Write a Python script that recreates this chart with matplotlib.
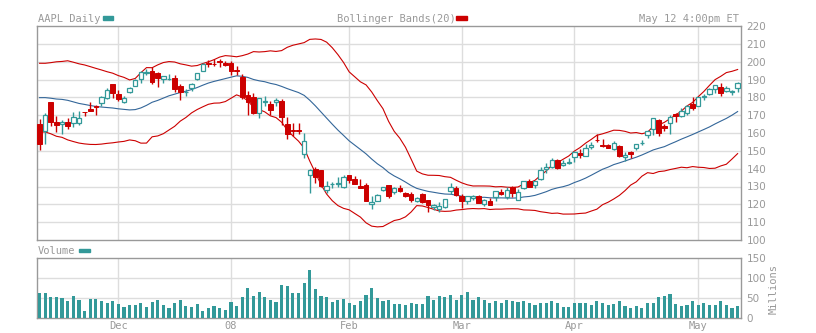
import numpy as np
import pandas as pd
import matplotlib
matplotlib.use("Agg")
from matplotlib import pyplot as plt

# AAPL daily, 2007-11-12 .. 2008-05-12
holidays = ["2007-11-22", "2007-12-25", "2008-01-01", "2008-01-21", "2008-02-18", "2008-03-21"]
dates = pd.bdate_range("2007-11-12", "2008-05-12", freq="C", holidays=holidays)

open_ = [165.28, 160.85, 177.16, 166.39, 165.17, 166.10, 165.67, 165.84, 172.00, 173.59,
         175.22, 176.82, 179.43, 187.34, 181.86, 177.15, 182.89, 186.19, 190.54, 193.59,
         194.75, 193.44, 190.19, 190.37, 190.72, 186.52, 182.98, 185.43, 190.12, 195.03,
         199.01, 198.95, 200.59, 199.50, 199.27, 195.41, 191.45, 181.25, 180.14, 171.30,
         177.58, 176.00, 177.52, 177.72, 165.23, 161.51, 161.71, 148.06, 136.19, 139.99,
         138.99, 128.16, 131.15, 131.37, 129.45, 136.24, 134.21, 130.43, 130.83, 119.97,
         122.08, 128.01, 130.70, 126.68, 129.40, 126.27, 125.99, 122.00, 126.05, 122.48,
         118.59, 117.64, 118.23, 127.20, 129.29, 124.44, 121.99, 123.58, 124.61, 120.41,
         121.98, 124.10, 127.04, 124.10, 129.88, 122.55, 129.18, 133.12, 131.12, 134.01,
         139.96, 140.87, 144.95, 141.80, 143.27, 146.30, 148.78, 147.06, 152.19, 156.13,
         153.55, 153.31, 151.13, 152.72, 146.77, 149.40, 151.72, 154.17, 159.12, 162.21,
         167.40, 164.05, 165.34, 170.70, 169.75, 171.11, 176.19, 174.96, 180.19, 181.92,
         184.66, 186.05, 183.77, 183.16, 185.21]
high = [167.70, 170.98, 177.57, 169.59, 167.43, 168.20, 171.79, 172.35, 172.05, 177.27,
        175.79, 180.60, 185.17, 187.70, 184.14, 180.90, 186.00, 190.10, 194.99, 195.66,
        196.83, 194.48, 192.12, 193.20, 192.65, 187.33, 184.64, 187.83, 193.91, 199.33,
        200.96, 201.33, 201.56, 200.50, 200.26, 197.39, 193.00, 183.60, 182.46, 179.50,
        181.00, 177.85, 179.42, 179.22, 169.01, 165.36, 165.75, 159.98, 140.00, 140.70,
        139.09, 133.20, 132.79, 135.45, 136.65, 136.59, 135.90, 134.00, 131.92, 124.78,
        125.70, 129.98, 131.00, 129.78, 130.80, 127.08, 126.75, 123.94, 126.47, 122.51,
        120.17, 121.09, 123.05, 132.20, 130.21, 125.98, 124.88, 125.14, 125.08, 122.98,
        123.46, 127.48, 128.68, 129.50, 130.30, 128.59, 133.00, 134.29, 133.29, 140.85,
        143.10, 145.74, 145.31, 144.65, 145.71, 149.66, 151.20, 153.63, 154.71, 159.69,
        156.45, 153.89, 155.42, 153.30, 149.25, 149.72, 154.10, 156.00, 161.65, 168.50,
        168.00, 164.84, 169.98, 171.10, 173.75, 175.66, 180.00, 180.00, 181.92, 185.31,
        187.12, 188.20, 186.50, 184.25, 188.87]
low = [150.63, 153.76, 163.74, 160.30, 159.47, 162.10, 163.53, 164.67, 169.75, 172.35,
       170.01, 175.35, 179.15, 179.70, 177.70, 176.99, 182.41, 186.12, 188.04, 192.69,
       187.39, 185.76, 187.82, 189.54, 182.98, 178.60, 180.90, 183.33, 189.89, 194.79,
       196.82, 197.60, 196.88, 197.75, 192.55, 192.69, 178.89, 170.23, 170.80, 168.30,
       175.41, 170.00, 175.17, 164.66, 156.70, 158.42, 159.61, 146.00, 126.14, 132.01,
       129.61, 126.45, 129.05, 130.00, 129.40, 132.18, 131.42, 128.90, 121.77, 117.27,
       121.60, 127.20, 123.62, 125.63, 127.01, 124.06, 121.44, 121.10, 120.86, 115.87,
       116.66, 115.44, 118.09, 125.77, 124.50, 118.00, 120.40, 122.25, 120.71, 119.05,
       119.37, 122.00, 125.17, 123.00, 124.20, 122.55, 128.67, 129.67, 129.18, 133.64,
       137.33, 140.64, 139.99, 141.60, 142.52, 143.61, 145.85, 147.00, 150.75, 155.11,
       152.32, 151.46, 150.60, 146.40, 144.54, 145.72, 150.62, 153.35, 157.39, 158.76,
       158.09, 161.08, 159.19, 166.42, 169.13, 170.25, 172.92, 174.86, 178.55, 181.05,
       182.18, 180.54, 183.07, 181.37, 182.85]
close = [153.76, 169.96, 166.11, 164.30, 166.39, 163.95, 168.85, 168.46, 171.54, 172.54,
         174.81, 180.22, 184.29, 182.22, 178.86, 179.81, 185.50, 189.95, 194.30, 194.21,
         188.54, 190.86, 191.83, 190.39, 184.40, 182.98, 183.12, 187.21, 193.91, 198.80,
         198.95, 198.57, 199.83, 198.08, 194.84, 194.93, 180.05, 177.64, 171.25, 179.40,
         178.02, 172.69, 178.78, 169.04, 159.64, 160.89, 161.36, 155.64, 139.07, 135.60,
         130.01, 130.01, 131.54, 132.18, 135.36, 133.75, 131.65, 129.36, 122.00, 121.24,
         125.48, 129.45, 124.86, 129.40, 127.46, 124.63, 122.18, 123.82, 121.54, 119.46,
         119.74, 119.15, 122.96, 129.91, 125.02, 121.73, 124.62, 124.49, 120.93, 122.25,
         119.69, 127.35, 126.03, 127.94, 126.61, 126.73, 132.82, 129.67, 133.27, 139.53,
         140.98, 145.06, 140.25, 143.01, 143.50, 149.53, 147.49, 151.61, 153.08, 155.89,
         152.84, 151.44, 154.55, 147.14, 147.78, 148.38, 153.70, 154.49, 161.04, 168.16,
         160.20, 162.89, 168.94, 169.73, 172.24, 175.05, 173.95, 180.00, 180.94, 184.73,
         186.66, 182.59, 185.06, 183.45, 188.16]
# closes of the 19 sessions before the first candle (needed for the 20-day bands)
prior_close = [169.58, 172.75, 173.50, 170.42, 174.36, 186.16, 185.93, 182.78, 184.70, 185.09,
               187.00, 189.95, 187.44, 187.87, 186.18, 191.79, 186.30, 175.47, 165.37]
# volume, millions
volume = [62, 62, 52, 52, 50, 42, 55, 45, 17, 47, 47, 42, 37, 42, 35, 27, 32, 32, 37, 27,
          40, 45, 32, 25, 37, 45, 30, 27, 35, 17, 25, 30, 25, 20, 40, 30, 52, 75, 55, 65,
          52, 45, 40, 82, 80, 62, 62, 87, 119, 72, 55, 52, 40, 45, 47, 37, 32, 42, 57, 75,
          50, 42, 45, 35, 35, 32, 37, 35, 35, 55, 45, 55, 52, 57, 45, 57, 65, 45, 52, 45,
          37, 42, 37, 45, 42, 40, 42, 37, 32, 37, 37, 42, 37, 27, 27, 37, 37, 37, 32, 42,
          37, 32, 35, 42, 30, 25, 30, 25, 37, 37, 52, 55, 60, 35, 30, 32, 42, 32, 37, 32,
          32, 42, 32, 25, 30]

TEAL = "#339999"
RED = "#cc0000"
BLUE = "#336699"
GRID = "#dddddd"
FRAME = "#999999"
TXT = "#999999"

n = len(close)
x = np.arange(n)
o = np.array(open_)
c = np.array(close)
h = np.array(high)
l = np.array(low)

allc = pd.Series(prior_close + close)
mid = allc.rolling(20).mean().values[len(prior_close):]
sd = allc.rolling(20).std(ddof=0).values[len(prior_close):]
upper = mid + 2 * sd
lower = mid - 2 * sd

month_idx = [i for i in range(1, n) if dates[i].month != dates[i - 1].month]
month_lbl = ["08" if dates[i].month == 1 else dates[i].strftime("%b") for i in month_idx]

fig = plt.figure(figsize=(8.16, 3.33), dpi=100)
W, H = 816, 333
ax = fig.add_axes([37 / W, 1 - 240 / H, 704 / W, 214 / H])
axv = fig.add_axes([37 / W, 1 - 318 / H, 704 / W, 60.3 / H])

for a in (ax, axv):
    a.set_xlim(-0.45, n - 0.4)
    for s in a.spines.values():
        s.set_color(FRAME)
        s.set_linewidth(1.0)
    a.yaxis.tick_right()
    a.tick_params(axis="y", length=0, pad=4, labelsize=7.5, labelcolor=TXT)
    a.tick_params(axis="x", length=0)
    for m in month_idx:
        a.axvline(m, color=GRID, lw=1.0, zorder=0)

# price panel
ax.set_ylim(100, 220)
ax.set_yticks(range(100, 221, 10))
for v in range(110, 220, 10):
    ax.axhline(v, color=GRID, lw=1.0, zorder=0)
ax.set_xticks([])

ax.plot(x, upper, color=RED, lw=0.8, zorder=2)
ax.plot(x, lower, color=RED, lw=0.8, zorder=2)
ax.plot(x, mid, color=BLUE, lw=0.8, zorder=2)

up = c >= o
ax.vlines(x[up], l[up], h[up], color=TEAL, lw=1.0, zorder=3)
ax.vlines(x[~up], l[~up], h[~up], color=RED, lw=1.0, zorder=3)
ax.bar(x[up], c[up] - o[up], bottom=o[up], width=0.78, facecolor="white",
       edgecolor=TEAL, linewidth=0.9, zorder=4)
ax.bar(x[~up], c[~up] - o[~up], bottom=o[~up], width=0.82, facecolor=RED,
       edgecolor=RED, linewidth=0.7, zorder=4)

# volume panel
axv.set_ylim(0, 150)
axv.set_yticks([0, 50, 100, 150])
for v in (50, 100):
    axv.axhline(v, color=GRID, lw=1.0, zorder=0)
axv.bar(x, volume, width=0.56, color=TEAL, zorder=3)
axv.set_xticks(month_idx)
axv.set_xticklabels(month_lbl, family="DejaVu Sans Mono", fontsize=7.5, color=TXT)
axv.tick_params(axis="x", pad=2)
fig.text(774 / W, 1 - 289 / H, "Millions", rotation=90, ha="center", va="center",
         family="DejaVu Sans Mono", fontsize=7.5, color=TXT)

# header texts
mono = dict(family="DejaVu Sans Mono", fontsize=7.5, color=TXT, va="baseline")
fig.text(38 / W, 1 - 22 / H, "AAPL Daily", **mono)
fig.patches.append(plt.Rectangle((103 / W, 1 - 19.5 / H), 10 / W, 3 / H,
                                 transform=fig.transFigure, color=TEAL))
fig.text(337 / W, 1 - 22 / H, "Bollinger Bands(20)", **mono)
fig.patches.append(plt.Rectangle((456 / W, 1 - 19.5 / H), 11 / W, 3 / H,
                                 transform=fig.transFigure, color=RED))
fig.text(739 / W, 1 - 22 / H, "May 12 4:00pm ET", ha="right", family="DejaVu Sans Mono",
         fontsize=7.5, color=TXT, va="baseline")
fig.text(38 / W, 1 - 254 / H, "Volume", **mono)
fig.patches.append(plt.Rectangle((79 / W, 1 - 251.5 / H), 11 / W, 3 / H,
                                 transform=fig.transFigure, color=TEAL))

fig.savefig("out.png", dpi=100)
